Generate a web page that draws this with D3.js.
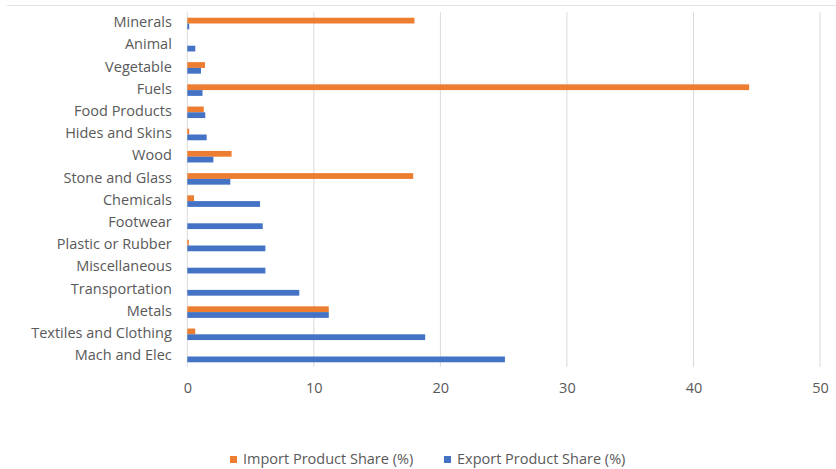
<!DOCTYPE html>
<html>
<head>
<meta charset="utf-8">
<script src="https://cdn.jsdelivr.net/npm/d3@7"></script>
<style>
  html, body { margin: 0; padding: 0; background: #fff; }
  svg { display: block; }
  text { font-family: "Open Sans", "Liberation Sans", sans-serif; fill: #595959; }
</style>
</head>
<body>
<svg id="chart" width="836" height="469"></svg>
<script>
// Product groups, top to bottom
const categories = [
  "Minerals", "Animal", "Vegetable", "Fuels", "Food Products", "Hides and Skins",
  "Wood", "Stone and Glass", "Chemicals", "Footwear", "Plastic or Rubber",
  "Miscellaneous", "Transportation", "Metals", "Textiles and Clothing", "Mach and Elec"
];
// Share of total imports / exports (%)
const importShare = [17.95, 0, 1.4, 44.4, 1.3, 0.15, 3.5, 17.85, 0.53, 0, 0.12, 0, 0, 11.18, 0.63, 0];
const exportShare = [0.15, 0.63, 1.08, 1.2, 1.42, 1.53, 2.06, 3.4, 5.75, 5.96, 6.17, 6.17, 8.85, 11.18, 18.8, 25.1];
const xTicks = [0, 10, 20, 30, 40, 50];
const seriesNames = ["Import Product Share (%)", "Export Product Share (%)"];
const seriesColors = ["#ED7D31", "#4472C4"];

const svg = d3.select("#chart");
const fontSize = 14.5;

const x = d3.scaleLinear().domain([0, 50]).range([187.3, 820]);
const y = d3.scaleBand().domain(categories).range([12.4, 367.6]).paddingInner(0.48).paddingOuter(0.24);
const sub = d3.scaleBand().domain([0, 1]).range([0, y.bandwidth()]);

// Frame line along the top
svg.append("line")
  .attr("x1", 7).attr("x2", 836).attr("y1", 5.5).attr("y2", 5.5)
  .attr("stroke", "#e3e3e3").attr("stroke-width", 1);

// Vertical gridlines
svg.append("g").selectAll("line").data(xTicks).join("line")
  .attr("x1", d => x(d)).attr("x2", d => x(d))
  .attr("y1", 12.4).attr("y2", 367)
  .attr("stroke", "#d9d9d9").attr("stroke-width", 1);

// Bars
const series = [importShare, exportShare];
const rows = svg.append("g").selectAll("g").data(categories).join("g")
  .attr("transform", d => `translate(0,${y(d)})`);
rows.selectAll("rect").data((d, i) => series.map((s, k) => ({ k, v: s[i] }))).join("rect")
  .attr("x", x(0))
  .attr("y", d => sub(d.k))
  .attr("width", d => x(d.v) - x(0))
  .attr("height", sub.bandwidth())
  .attr("fill", d => seriesColors[d.k]);

// Category axis
const yAxis = svg.append("g")
  .attr("transform", `translate(${x(0) - 15.5},-1)`)
  .call(d3.axisLeft(y).tickSize(0).tickPadding(0));
yAxis.select(".domain").remove();
yAxis.selectAll("text")
  .attr("font-size", fontSize)
  .attr("fill", "#595959")
  .style("font-family", "'Open Sans', sans-serif");

// Value axis
const xAxis = svg.append("g")
  .attr("transform", `translate(0,388)`)
  .call(d3.axisBottom(x).tickValues(xTicks).tickSize(0).tickPadding(0));
xAxis.select(".domain").remove();
xAxis.selectAll("text")
  .attr("dy", "0.35em")
  .attr("font-size", fontSize)
  .attr("fill", "#595959")
  .style("font-family", "'Open Sans', sans-serif");

// Legend
const legendX = [230, 444];
const legend = svg.append("g").selectAll("g").data(seriesNames).join("g")
  .attr("transform", (d, i) => `translate(${legendX[i]},459)`);
legend.append("rect")
  .attr("x", 0).attr("y", -3).attr("width", 7).attr("height", 7)
  .attr("fill", (d, i) => seriesColors[i]);
legend.append("text")
  .attr("x", 13).attr("y", 0).attr("dy", "0.35em")
  .attr("font-size", fontSize)
  .text(d => d);
</script>
</body>
</html>
